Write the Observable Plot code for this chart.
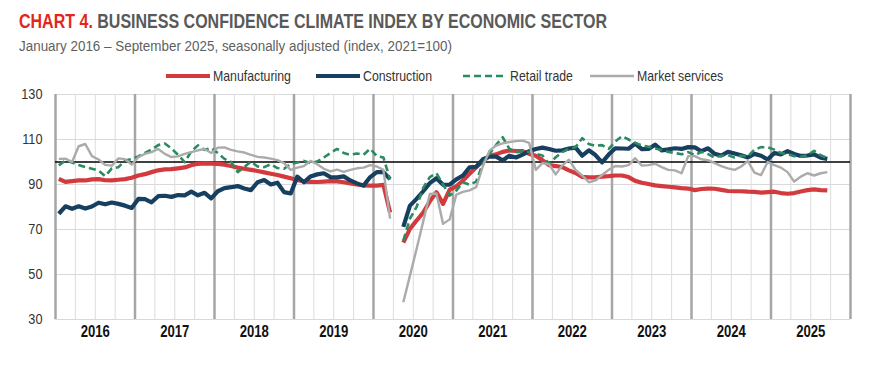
<!DOCTYPE html>
<html>
<head>
<meta charset="utf-8">
<script src="https://cdn.jsdelivr.net/npm/d3@7"></script>
<script src="https://cdn.jsdelivr.net/npm/@observablehq/plot@0.6"></script>
<style>
  html,body{margin:0;padding:0;background:#fff;}
  #wrap{position:relative;width:881px;height:370px;overflow:hidden;font-family:"Liberation Sans",Arial,sans-serif;}
  .t{position:absolute;white-space:nowrap;display:inline-block;transform-origin:0 50%;}
  #title{left:19px;top:10px;font-size:20px;font-weight:bold;color:#595959;}
  #title .red{color:#e2261d;}
  #sub{left:19px;top:37px;font-size:15.5px;color:#5f5f5f;}
  .sw{position:absolute;top:72px;}
  .lt{position:absolute;top:67px;font-size:15px;color:#333;white-space:nowrap;display:inline-block;transform-origin:0 50%;}
  #chart{position:absolute;left:0;top:84px;}
</style>
</head>
<body>
<div id="wrap">
  <div id="title" class="t"><span class="red">CHART 4.</span> BUSINESS CONFIDENCE CLIMATE INDEX BY ECONOMIC SECTOR</div>
  <div id="sub" class="t">January 2016 – September 2025, seasonally adjusted (index, 2021=100)</div>
  <div id="legend"></div>
  <div id="chart"></div>
</div>
<script>
// ---- data (monthly, Jan 2016 – Sep 2025; Apr 2020 not surveyed) ----
const years = [2016, 2017, 2018, 2019, 2020, 2021, 2022, 2023, 2024, 2025];
const yTicks = [30, 50, 70, 90, 110, 130];
const seriesNames = ["Manufacturing", "Construction", "Retail trade", "Market services"];

const manufacturing = [
  92.5, 91.2, 91.5, 91.8, 91.8, 92.3, 92.4, 91.9, 91.8, 92.1, 92.4, 93.0,
  94.0, 94.6, 95.5, 96.3, 96.7, 96.8, 97.2, 97.6, 98.6, 99.2, 99.4, 99.3,
  99.2, 98.8, 98.2, 97.5, 97.0, 96.5, 96.0, 95.4, 94.8, 94.2, 93.5, 92.8,
  92.0, 91.3, 91.2, 91.1, 91.3, 91.5, 91.4, 91.0, 90.5, 90.0, 89.6, 89.5,
  89.5, 89.8, 77.6, null, 64.2, 70.3, 74.0, 77.5, 82.5, 86.6, 81.4, 87.7,
  89.2, 91.8, 94.8, 97.7, 100.3, 102.7, 103.4, 104.5, 105.1, 104.9, 104.8, 103.6,
  102.8, 100.8, 98.6, 98.2, 97.7, 96.3, 95.1, 93.4, 93.2, 93.2, 93.5, 93.7,
  94.0, 94.0, 93.3, 91.6, 90.8, 90.2, 89.6, 89.3, 89.0, 88.7, 88.4, 88.2,
  87.5, 88.0, 88.2, 88.1, 87.6, 87.1, 87.0, 87.0, 86.8, 86.7, 86.4, 86.6,
  86.8, 86.2, 85.9, 86.2, 86.9, 87.5, 87.8, 87.5, 87.4
];
const construction = [
  77.0, 80.3, 79.2, 80.3, 79.3, 80.2, 81.9, 81.2, 82.0, 81.4, 80.6, 79.6,
  83.6, 83.5, 82.1, 84.8, 85.0, 84.5, 85.3, 85.2, 86.8, 85.2, 86.3, 83.8,
  87.0, 88.4, 88.8, 89.3, 88.2, 87.5, 91.0, 92.0, 90.0, 90.8, 86.6, 86.0,
  93.5, 91.0, 93.6, 94.5, 95.0, 93.3, 93.2, 93.6, 91.8, 90.5, 89.5, 93.3,
  95.5, 95.5, 92.4, null, 71.2, 80.6, 83.6, 87.0, 90.6, 92.8, 89.9, 89.9,
  92.3, 94.0, 97.6, 97.9, 101.2, 102.4, 102.4, 100.7, 102.8, 102.0, 103.3, 104.8,
  105.8, 106.4, 105.8, 105.0, 105.2, 106.0, 106.4, 102.8, 105.2, 103.1, 99.8, 103.3,
  106.1, 106.0, 105.9, 108.2, 105.7, 105.8, 107.7, 105.2, 105.6, 106.1, 105.8, 106.6,
  106.5, 104.8, 106.1, 103.6, 102.9, 104.5, 103.8, 103.0, 102.0, 103.6, 102.8, 101.1,
  104.0, 103.4, 104.8, 103.6, 102.7, 102.9, 103.4, 101.9, 101.4
];
const retailTrade = [
  98.5, 100.7, 99.8, 98.7, 97.7, 97.0, 96.2, 93.7, 97.2, 97.7, 100.7, 101.3,
  102.5, 104.0, 105.5, 107.5, 108.2, 106.0, 103.2, 99.9, 104.8, 107.4, 105.4, 106.2,
  104.0, 101.4, 100.0, 95.5, 97.7, 100.2, 98.0, 97.7, 99.0, 97.3, 97.0, 99.2,
  99.8, 100.5, 99.5, 100.2, 102.0, 104.0, 105.8, 104.0, 103.2, 103.8, 103.2, 105.9,
  102.6, 102.0, 92.2, null, 65.1, 74.8, 80.0, 88.5, 93.3, 95.0, 90.0, 85.1,
  87.3, 91.0, 89.9, 91.3, 99.2, 103.6, 107.6, 111.0, 105.9, 104.4, 104.8, 104.4,
  103.6, 102.9, 99.2, 102.1, 104.4, 105.9, 106.6, 110.6, 108.0, 107.2, 107.5, 105.8,
  109.1, 111.5, 110.0, 108.5, 107.4, 106.8, 106.0, 105.3, 104.5, 104.0, 103.4, 104.4,
  103.0, 104.5, 103.5, 102.0, 102.8, 103.0, 102.0, 102.8, 102.5, 105.5, 106.6, 106.5,
  105.5, 104.0, 103.5, 102.6, 102.3, 103.0, 105.0, 103.0, 101.8
];
const marketServices = [
  101.4, 101.5, 100.0, 107.0, 108.0, 102.6, 101.1, 98.7, 98.4, 101.6, 101.3, 98.8,
  102.1, 103.6, 104.4, 105.8, 103.6, 102.2, 102.5, 103.6, 104.4, 105.2, 105.8, 104.0,
  106.4, 106.5, 105.4, 104.7, 104.2, 103.2, 102.3, 102.0, 101.5, 100.8, 99.5, 96.5,
  97.5, 98.2, 100.5, 99.0, 97.0, 95.8, 96.6, 95.6, 96.5, 97.2, 97.5, 98.6,
  98.0, 96.5, 74.8, null, 37.7, 49.5, 61.3, 73.5, 85.8, 86.0, 72.5, 74.5,
  85.5, 86.7, 87.4, 88.8, 98.0, 105.0, 107.3, 108.3, 108.9, 109.3, 109.5, 108.5,
  96.5, 99.5, 99.0, 94.5, 98.5, 101.0, 96.5, 94.0, 91.0, 91.8, 94.2, 96.5,
  98.2, 98.0, 98.6, 101.7, 98.4, 98.6, 99.2, 97.7, 96.5, 96.3, 95.0, 102.6,
  102.6, 101.2, 100.8, 99.5, 98.2, 97.2, 96.5, 98.0, 100.4, 95.3, 94.2, 100.0,
  98.6, 97.5, 95.5, 91.3, 93.5, 95.0, 94.0, 95.0, 95.5
];

// ---- styles ----
const styles = {
  "Manufacturing":   {color: "#d33a3e", width: 4.2, dash: null},
  "Construction":    {color: "#173f5f", width: 4.2, dash: null},
  "Retail trade":    {color: "#2b8a5f", width: 2.6, dash: "7,4"},
  "Market services": {color: "#ababab", width: 2.4, dash: null}
};
const valueArrays = [manufacturing, construction, retailTrade, marketServices];
const legendSwatchX = [166, 316, 463, 590];
const NARROW = 0.82; // Arial Narrow ≈ horizontally compressed Arial

function toRows(values) {
  return values.map((v, i) => ({
    t: years[0] + Math.floor(i / 12) + ((i % 12) + 0.5) / 12,
    v: v
  }));
}
function fitWidth(el, target) {
  const w = el.getBoundingClientRect().width;
  el.style.transform = `scaleX(${target / w})`;
}

// ---- header ----
fitWidth(document.getElementById("title"), 588);
fitWidth(document.getElementById("sub"), 433);

// ---- legend ----
const legend = document.getElementById("legend");
seriesNames.forEach((name, k) => {
  const s = styles[name];
  const x0 = legendSwatchX[k];
  const sw = document.createElement("div");
  sw.className = "sw";
  sw.style.left = x0 + "px";
  sw.innerHTML = `<svg width="44" height="8" style="display:block"><line x1="0" y1="4" x2="44" y2="4" stroke="${s.color}" stroke-width="${s.width}" ${s.dash ? `stroke-dasharray="${s.dash}"` : ""}/></svg>`;
  legend.appendChild(sw);
  const tx = document.createElement("div");
  tx.className = "lt";
  tx.style.left = (x0 + 47) + "px";
  tx.textContent = name;
  legend.appendChild(tx);
  tx.style.transform = `scaleX(${NARROW})`;
});

// ---- chart ----
const yearBounds = years.concat([years[years.length - 1] + 1]);
const quarters = d3.range(years[0], yearBounds[yearBounds.length - 1] + 0.001, 0.25)
  .filter(q => Math.abs(q - Math.round(q)) > 1e-6);
const yearMid = years.map(y => y + 0.5);

const lineMarks = seriesNames.map((name, k) => {
  const s = styles[name];
  return Plot.line(toRows(valueArrays[k]), {
    x: "t", y: "v", stroke: s.color, strokeWidth: s.width,
    strokeDasharray: s.dash || undefined, strokeLinejoin: "round", strokeLinecap: "butt"
  });
});

const chart = Plot.plot({
  width: 881,
  height: 270,
  marginLeft: 55,
  marginRight: 31,
  marginTop: 10,
  marginBottom: 35,
  x: {domain: [yearBounds[0], yearBounds[yearBounds.length - 1]]},
  y: {domain: [yTicks[0], yTicks[yTicks.length - 1]]},
  style: {fontFamily: '"Liberation Sans",Arial,sans-serif', color: "#333", background: "transparent"},
  marks: [
    Plot.ruleY(yTicks, {stroke: "#d9d9d9", strokeWidth: 1}),
    Plot.ruleX(quarters, {stroke: "#dcdcdc", strokeWidth: 1}),
    Plot.ruleX(yearBounds, {stroke: "#a6a6a6", strokeWidth: 2.5}),
    Plot.ruleY([100], {stroke: "#000", strokeWidth: 1.4}),
    ...lineMarks,
    Plot.axisY(yTicks, {anchor: "left", tickSize: 0, tickPadding: 13, fontSize: 15.5, label: null}),
    Plot.axisX(yearMid, {anchor: "bottom", tickSize: 0, tickPadding: 6, fontSize: 16, fontWeight: "bold", label: null, fill: "#111",
      tickFormat: d => String(Math.floor(d))})
  ]
});
document.getElementById("chart").appendChild(chart);

// condense axis labels (Arial Narrow look)
chart.querySelectorAll("text").forEach(t => {
  const len = t.getComputedTextLength();
  if (len > 0) {
    t.setAttribute("textLength", (len * NARROW).toFixed(2));
    t.setAttribute("lengthAdjust", "spacingAndGlyphs");
  }
});
</script>
</body>
</html>
